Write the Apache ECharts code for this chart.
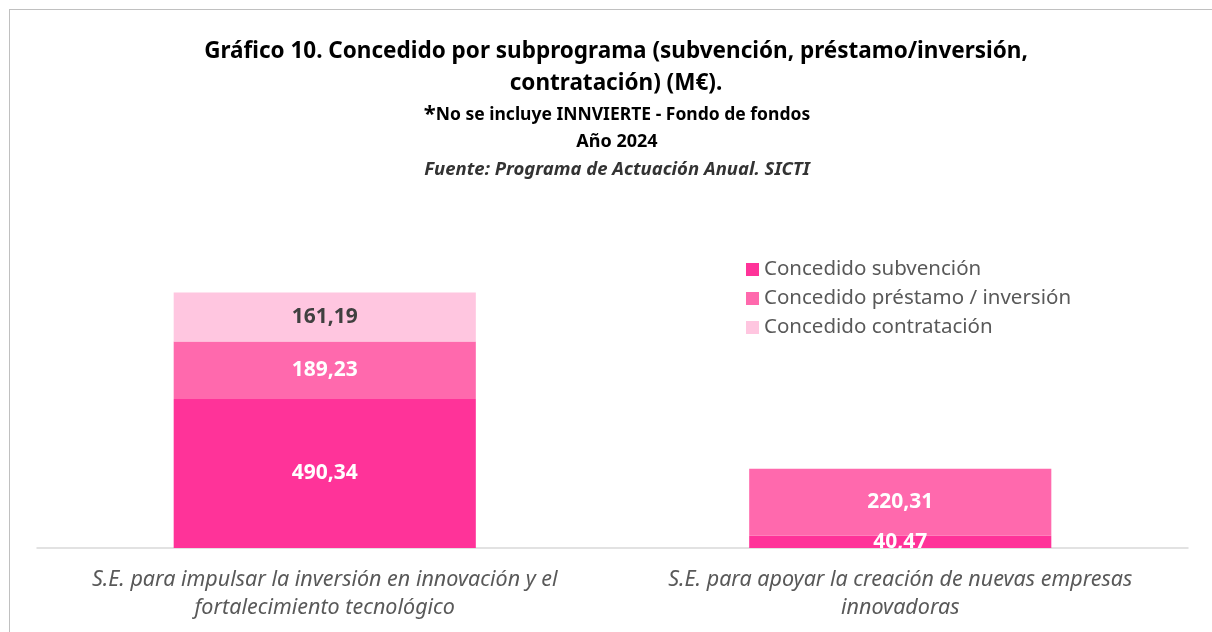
<!DOCTYPE html>
<html>
<head>
<meta charset="utf-8">
<script src="https://cdn.jsdelivr.net/npm/echarts@6/dist/echarts.min.js"></script>
<style>
  html, body { margin: 0; padding: 0; background: #fff; }
  #frame { position: absolute; left: 9px; top: 9px; width: 1220px; height: 640px; border: 1px solid #c0c0c0; box-sizing: border-box; }
  #chart { position: absolute; left: 0; top: 0; width: 1212px; height: 632px; }
</style>
</head>
<body>
<div id="frame"></div>
<div id="chart"></div>
<script>
  // datos del gráfico
  const categories = [
    'S.E. para impulsar la inversión en innovación y el\nfortalecimiento tecnológico',
    'S.E. para apoyar la creación de nuevas empresas\ninnovadoras'
  ]
  const seriesNames = ['Concedido subvención', 'Concedido préstamo / inversión', 'Concedido contratación']
  const subvencion = [490.34, 40.47]
  const prestamo = [189.23, 220.31]
  const contratacion = [161.19, null]

  const colors = ['#FF3399', '#FF69AD', '#FFC6E0']
  const fmt = p => p.value == null ? '' : p.value.toFixed(2).replace('.', ',')

  const myChart = echarts.init(document.getElementById('chart'))

  const labelStyle = (color) => ({
    show: true,
    position: 'inside',
    formatter: fmt,
    color: color,
    fontSize: 21,
    fontWeight: 'bold',
    fontFamily: 'Noto Sans'
  })

  let option = {
    animation: false,
    title: [
      {
        text: 'Gráfico 10. Concedido por subprograma (subvención, préstamo/inversión,\ncontratación) (M€).',
        left: 611,
        top: 31,
        textAlign: 'center',
        textStyle: { fontSize: 22.5, fontWeight: 'bold', color: '#000', fontFamily: 'Noto Sans', lineHeight: 32 }
      },
      {
        text: '{a|*}{b|No se incluye INNVIERTE - Fondo de fondos}',
        left: 612,
        top: 99,
        textAlign: 'center',
        textStyle: {
          rich: {
            a: { fontSize: 22, fontWeight: 'bold', color: '#000', fontFamily: 'Noto Sans', verticalAlign: 'top' },
            b: { fontSize: 17.5, fontWeight: 'bold', color: '#000', fontFamily: 'Noto Sans' }
          }
        }
      },
      {
        text: 'Año 2024',
        left: 612,
        top: 128,
        textAlign: 'center',
        textStyle: { fontSize: 18, fontWeight: 'bold', color: '#000', fontFamily: 'Noto Sans' }
      },
      {
        text: 'Fuente: Programa de Actuación Anual. SICTI',
        left: 612,
        top: 155,
        textAlign: 'center',
        textStyle: { fontSize: 18.5, fontWeight: 'bold', fontStyle: 'italic', color: '#333', fontFamily: 'Noto Sans' }
      }
    ],
    legend: {
      orient: 'vertical',
      left: 741,
      top: 254,
      itemWidth: 13,
      itemHeight: 13,
      itemGap: 8,
      icon: 'rect',
      textStyle: { fontSize: 20.5, color: '#595959', fontFamily: 'Noto Sans' },
      data: seriesNames
    },
    grid: { left: 37, right: 24, top: 244, bottom: 84, containLabel: false },
    xAxis: {
      type: 'category',
      data: categories,
      axisLine: { lineStyle: { color: '#d9d9d9', width: 1.5 } },
      axisTick: { show: false },
      axisLabel: {
        fontSize: 21.5,
        fontStyle: 'italic',
        color: '#595959',
        fontFamily: 'Noto Sans',
        lineHeight: 28,
        margin: 18,
        interval: 0
      }
    },
    yAxis: {
      type: 'value',
      min: 0,
      max: 1000,
      show: false,
      splitLine: { show: false }
    },
    series: [
      {
        name: seriesNames[0],
        type: 'bar',
        stack: 'total',
        barWidth: '52.5%',
        data: subvencion,
        itemStyle: { color: colors[0] },
        label: labelStyle('#fff')
      },
      {
        name: seriesNames[1],
        type: 'bar',
        stack: 'total',
        data: prestamo,
        itemStyle: { color: colors[1] },
        label: labelStyle('#fff')
      },
      {
        name: seriesNames[2],
        type: 'bar',
        stack: 'total',
        data: contratacion,
        itemStyle: { color: colors[2] },
        label: labelStyle('#404040')
      }
    ]
  }

  myChart.setOption(option)
</script>
</body>
</html>
